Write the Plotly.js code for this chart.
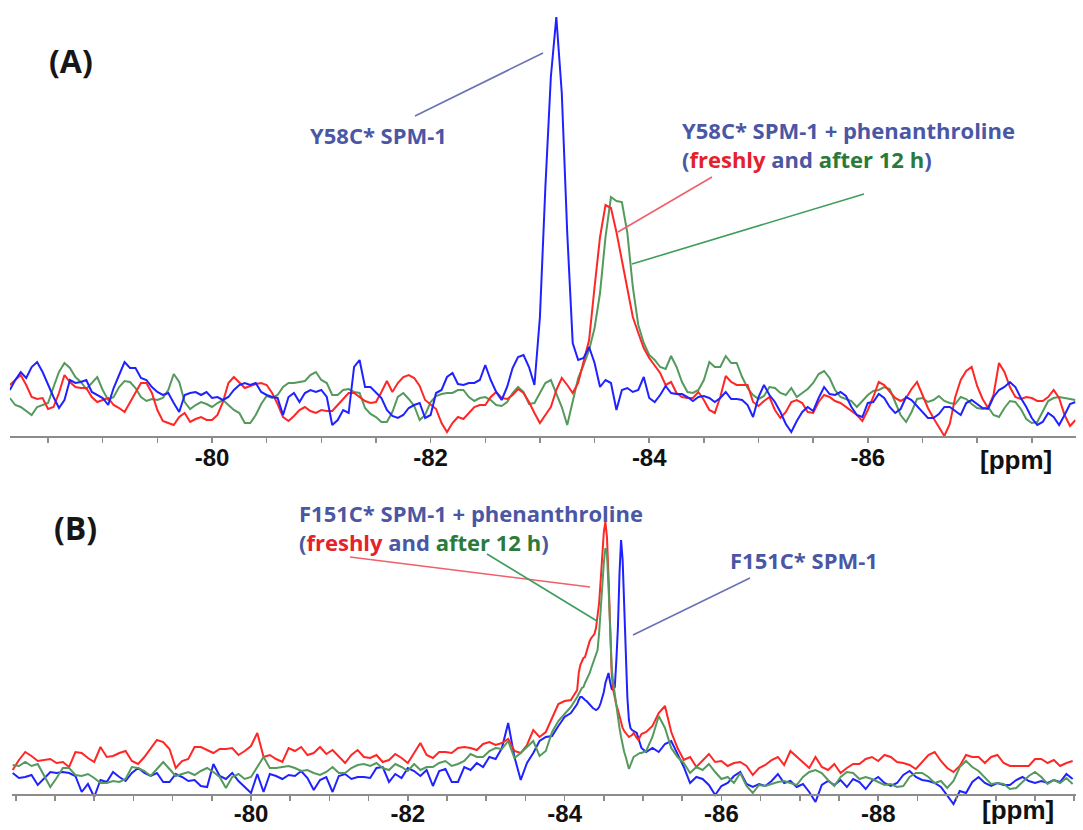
<!DOCTYPE html>
<html>
<head>
<meta charset="utf-8">
<script src="https://cdn.plot.ly/plotly-3.0.1.min.js"></script>
<style>
  html, body { margin: 0; padding: 0; background: #ffffff; }
  #chart { width: 1083px; height: 830px; }
</style>
</head>
<body>
<div id="chart"></div>
<script>
// ---------- Panel A: Y58C* SPM-1 (19F spectra, chemical shift in ppm) ----------
// Spectra sampled on a regular ppm grid
const A_START_PPM = -78.15;
const A_STEP_PPM = 0.05;

const specA_blue = [
  47,57,65,59,70,75,65,52,40,29,
  37,57,54,55,57,45,42,39,32,49,
  62,75,69,69,59,57,50,45,42,44,
  34,25,42,44,45,42,45,39,40,37,
  40,47,52,54,52,54,45,42,40,39,
  22,40,44,35,44,47,45,47,40,12,
  17,27,24,70,77,50,50,45,39,27,
  21,19,22,29,32,34,19,22,44,47,
  60,64,53,52,54,54,57,72,57,45,
  37,50,69,80,82,70,52,120,250,360,
  420,344,204,94,77,79,90,74,50,57,
  54,27,47,49,45,47,60,39,35,42,
  51,44,43,43,40,36,40,41,39,35,
  39,45,38,38,37,32,20,40,52,42,
  35,25,13,5,16,25,30,26,39,50,
  43,42,45,41,30,22,20,34,35,43,
  39,30,24,28,40,37,31,24,19,19,
  23,30,30,26,22,34,37,33,29,28,
  40,47,50,55,50,39,30,19,12,15,
  24,20,12,22,33,35
];

const specA_red = [
  52,57,62,52,40,38,39,28,30,44,
  62,55,50,49,49,40,35,37,39,32,
  29,25,35,45,54,54,44,27,16,14,
  12,20,24,15,18,20,17,17,22,35,
  54,60,55,49,51,53,54,52,44,33,
  20,16,21,27,30,26,24,27,26,26,
  32,38,44,44,40,36,34,35,45,56,
  45,54,60,62,59,51,37,32,28,14,
  5,14,20,18,24,30,32,32,40,45,
  39,38,42,48,44,35,24,14,22,30,
  47,59,52,44,54,75,97,150,200,232,
  229,205,177,149,120,104,89,79,72,64,
  52,55,44,40,39,39,45,37,27,24,
  40,61,55,52,52,52,35,31,36,40,
  27,19,25,35,37,34,25,24,35,42,
  40,36,34,30,26,22,16,27,40,55,
  52,46,39,36,39,48,55,42,29,19,
  10,1,13,40,57,66,70,51,38,29,
  42,74,65,50,40,38,40,39,36,36,
  40,47,39,22,11,17
];

const specA_green = [
  39,32,30,26,22,30,32,34,50,65,
  74,69,60,55,48,54,60,47,37,40,
  50,56,55,49,40,36,38,37,39,47,
  63,55,35,28,32,35,33,30,34,37,
  32,27,24,14,14,22,33,41,39,42,
  50,54,54,55,56,62,65,57,54,42,
  42,47,48,45,44,29,23,20,15,15,
  25,40,44,38,31,17,22,35,41,43,
  44,44,47,47,40,36,39,40,37,32,
  31,35,44,50,45,33,34,44,54,57,
  44,30,12,34,59,72,87,109,144,200,
  240,236,235,204,150,112,94,82,77,70,
  68,81,70,55,45,44,47,57,75,70,
  70,81,74,74,60,49,42,38,41,50,
  49,44,42,49,40,44,48,54,63,66,
  59,47,40,38,36,30,36,42,46,47,
  50,48,35,22,15,25,38,39,35,37,
  41,36,34,33,40,38,33,29,28,30,
  22,20,29,36,35,28,18,14,15,25,
  36,39,40,39,38,37
];

const ticksA = [-80, -82, -84, -86];
const tickTextA = ["-80", "-82", "-84", "-86"];

// ---------- Panel B: F151C* SPM-1 ----------
// Grid: coarse sampling, finer sampling across the main signals, coarse again
const B_SEGMENTS = [
  { start: -76.96, step: 0.08, count: 91 },
  { start: -84.18, step: 0.02, count: 41 },
  { start: -85.04, step: 0.08, count: 69 }
];

const specB_red = [
  25,35,43,39,34,35,36,32,33,28,
  43,42,37,33,48,38,39,42,44,34,
  31,38,46,55,53,46,27,34,36,48,
  48,45,42,46,46,47,40,44,49,62,
  38,40,36,33,47,44,48,40,42,48,
  41,45,38,32,40,45,
  38,37,40,33,
  35,41,37,32,42,52,40,37,43,43,
  42,47,48,47,45,51,53,50,52,56,
  44,42,50,65,58,63,77,91,94,95,
  105,
  122,130,133,137,138,143,150,154,157,159,
  161,167,178,192,215,238,263,273,258,218,
  175,122,105,97,90,85,78,72,67,64,
  62,59,58,59,60,62,59,57,55,58,
  61,
  63,69,82,89,63,47,35,38,28,34,41,33,
  34,29,32,33,29,20,27,30,35,38,
  30,44,38,33,27,38,28,25,31,22,
  27,31,31,36,38,34,40,38,33,32,
  30,26,33,40,43,34,27,23,29,40,
  38,38,32,38,40,32,29,29,29,29,
  36,36,32,35,29,32,34
];

const specB_blue = [
  22,17,18,20,10,17,23,22,23,22,
  19,3,11,-2,15,13,23,18,14,22,
  27,22,19,22,13,13,21,18,14,15,
  9,8,31,19,16,22,14,8,2,21,
  3,21,19,16,20,19,24,17,5,15,
  18,3,19,21,16,18,
  18,17,27,28,
  13,21,17,27,24,19,25,9,24,26,
  13,13,28,25,32,28,38,36,47,72,
  38,15,32,42,54,58,59,69,78,82,
  91,
  95,98,98,96,95,94,92,90,88,87,
  86,85,86,88,92,98,103,112,118,122,
  113,106,105,108,135,168,222,255,235,188,
  142,98,75,67,65,64,63,62,57,52,
  47,
  43,47,43,51,54,41,28,12,18,16,10,0,
  9,12,19,23,11,8,11,9,14,21,
  12,14,8,11,3,-7,10,14,10,15,
  8,16,13,6,14,18,12,9,12,20,
  24,18,15,14,12,8,-1,-9,4,2,
  13,18,12,9,12,10,10,15,18,14,
  12,14,12,15,13,21,16
];

const specB_green = [
  30,29,33,29,31,20,8,17,27,27,
  20,19,21,17,12,12,14,13,16,28,
  27,24,19,26,33,26,19,21,23,20,
  24,27,23,18,7,18,21,16,18,28,
  38,27,27,28,29,27,24,25,22,20,
  23,28,22,22,27,30,
  31,29,32,27,
  25,31,28,24,31,25,28,28,32,34,
  29,31,34,41,38,38,44,47,46,54,
  37,42,48,54,39,44,63,74,81,88,
  98,
  102,104,107,108,112,115,118,122,127,132,
  137,142,145,162,188,208,232,247,242,208,
  162,128,112,100,87,78,67,58,50,43,
  38,32,26,30,35,38,39,40,41,42,
  42,
  44,58,79,67,47,38,32,22,28,25,31,23,
  16,18,12,22,9,2,10,9,11,13,
  14,12,10,18,23,25,22,15,9,18,
  23,22,16,18,16,13,10,11,8,9,
  18,22,22,18,12,14,7,14,28,34,
  28,24,17,11,12,11,6,7,13,19,
  23,18,11,15,12,17,11
];

const ticksB = [-80, -82, -84, -86, -88];
const tickTextB = ["-80", "-82", "-84", "-86", "-88"];

// ---------- ppm grids ----------
const ppmA = [];
for (let k = 0; k < specA_blue.length; k++) {
  ppmA.push(+(A_START_PPM - A_STEP_PPM * k).toFixed(3));
}
const ppmB = [];
B_SEGMENTS.forEach(seg => {
  for (let k = 0; k < seg.count; k++) {
    ppmB.push(+(seg.start - seg.step * k).toFixed(3));
  }
});

// ---------- page geometry helpers (figure is 1083 x 830, no margins) ----------
const W = 1083, H = 830;
const px = X => X / W;
const py = Y => (H - Y) / H;

// colours
const C_BLUE = "#1f22ff";
const C_RED = "#ff2626";
const C_GREEN = "#559a5c";
const C_LABEL = "#4a57a4";
const C_FRESH = "#e4222b";
const C_AFTER = "#2c7a3a";
const AXIS_GREY = "#8c8c8c";

const lineTrace = (x, y, color, xa, ya) => ({
  type: "scatter", mode: "lines", x: x, y: y,
  xaxis: xa, yaxis: ya,
  line: { color: color, width: 2 },
  hoverinfo: "skip", showlegend: false
});

const data = [
  lineTrace(ppmA, specA_green, C_GREEN, "x", "y"),
  lineTrace(ppmA, specA_red, C_RED, "x", "y"),
  lineTrace(ppmA, specA_blue, C_BLUE, "x", "y"),
  lineTrace(ppmB, specB_blue, C_BLUE, "x2", "y2"),
  lineTrace(ppmB, specB_red, C_RED, "x2", "y2"),
  lineTrace(ppmB, specB_green, C_GREEN, "x2", "y2")
];

const tickFont = { family: "Liberation Sans, Arial, sans-serif", size: 24, color: "#111111", weight: "bold" };

function ppmAxis(domain, range, position, tickvals, ticktext, standoff) {
  return {
    domain: domain, range: range, anchor: "free", position: position,
    showline: true, linecolor: AXIS_GREY, linewidth: 2,
    ticks: "outside", ticklen: 5, tickwidth: 1.5, tickcolor: AXIS_GREY,
    tickmode: "array", tickvals: tickvals, ticktext: ticktext,
    tickfont: tickFont, ticklabelstandoff: standoff,
    minor: { tickmode: "linear", tick0: -80, dtick: 0.5, ticks: "outside",
             ticklen: 5, tickwidth: 1.5, tickcolor: AXIS_GREY, showgrid: false },
    showgrid: false, zeroline: false, fixedrange: true
  };
}

const labelFont = (size, color) => ({ family: "Open Sans, Noto Sans, sans-serif", size: size, color: color });

const textAnn = (X, Y, text, size, color) => ({
  xref: "paper", yref: "paper", x: px(X), y: py(Y),
  xanchor: "left", yanchor: "middle", align: "left",
  text: text, showarrow: false, font: labelFont(size, color)
});

const twoTone = '<b>(<span style="color:' + C_FRESH + '">freshly</span> and <span style="color:' + C_AFTER + '">after 12 h</span>)</b>';

const annotations = [
  // panel A
  textAnn(47, 60, "<b>(A)</b>", 32, "#161616"),
  textAnn(308, 135, "<b>Y58C* SPM-1</b>", 22, C_LABEL),
  textAnn(680, 145, "<b>Y58C* SPM-1 + phenanthroline</b><br>" + twoTone, 22, C_LABEL),
  { xref: "paper", yref: "paper", x: px(978), y: py(460), xanchor: "left", yanchor: "middle",
    text: "<b>[ppm]</b>", showarrow: false, font: { family: "Liberation Sans, Arial, sans-serif", size: 26, color: "#111111" } },
  // panel B
  textAnn(52, 527, "<b>(B)</b>", 32, "#161616"),
  textAnn(297, 527, "<b>F151C* SPM-1 + phenanthroline</b><br>" + twoTone, 22, C_LABEL),
  textAnn(728, 560, "<b>F151C* SPM-1</b>", 22, C_LABEL),
  { xref: "paper", yref: "paper", x: px(980), y: py(810), xanchor: "left", yanchor: "middle",
    text: "<b>[ppm]</b>", showarrow: false, font: { family: "Liberation Sans, Arial, sans-serif", size: 26, color: "#111111" } }
];

const leader = (X0, Y0, X1, Y1, color) => ({
  type: "line", xref: "paper", yref: "paper",
  x0: px(X0), y0: py(Y0), x1: px(X1), y1: py(Y1),
  line: { color: color, width: 1.6 }
});

const shapes = [
  leader(415, 116, 543, 53, "#6a72b4"),
  leader(712, 177, 618, 232, "#ef5f6c"),
  leader(864, 194, 632, 264, "#3f9d5d"),
  leader(350, 557, 590, 587, "#ef5f6c"),
  leader(487, 554, 597, 621, "#3f9d5d"),
  leader(633, 635, 750, 578, "#6a72b4")
];

const layout = {
  width: W, height: H, autosize: false,
  margin: { l: 0, r: 0, t: 0, b: 0, pad: 0 },
  paper_bgcolor: "#ffffff", plot_bgcolor: "rgba(0,0,0,0)",
  showlegend: false,
  xaxis: ppmAxis([px(9.8), px(1075.5)], [-78.15, -87.9], py(437), ticksA, tickTextA, -6),
  yaxis: { domain: [py(442), py(10)], range: [-5, 427], anchor: "x", visible: false, fixedrange: true },
  xaxis2: ppmAxis([px(11.9), px(1075.8)], [-76.95, -90.52], py(795), ticksB, tickTextB, -8),
  yaxis2: { domain: [py(807), py(500)], range: [-12, 295], anchor: "x2", visible: false, fixedrange: true },
  annotations: annotations,
  shapes: shapes
};

Plotly.newPlot("chart", data, layout, { displayModeBar: false, staticPlot: true });
</script>
</body>
</html>
